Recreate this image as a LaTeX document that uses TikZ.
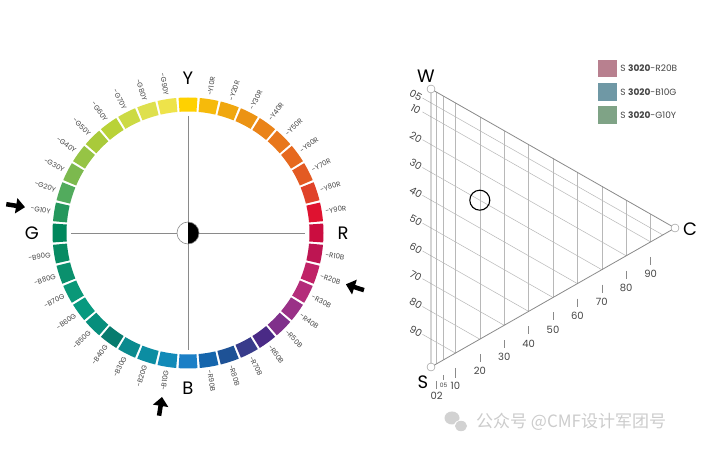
\documentclass[tikz,border=0pt]{standalone}
\usepackage{fontspec}
\setmainfont{Poppins}
\newfontfamily\cjkfont{Noto Sans CJK SC}
\usetikzlibrary{arrows.meta,positioning}

\definecolor{gridgray}{HTML}{B8B8B8}
\definecolor{edgegray}{HTML}{8A8A8A}
\definecolor{labelgray}{HTML}{444444}
\definecolor{swatchA}{HTML}{B8808F}
\definecolor{swatchB}{HTML}{6F98A5}
\definecolor{swatchC}{HTML}{7FA386}

\tikzset{
  huelabel/.style={font=\fontsize{7}{8}\selectfont, text=labelgray, inner sep=1pt},
  hueletter/.style={font=\fontsize{18}{20}\selectfont, inner sep=0pt},
  bigarrow/.style={line width=4.5pt, -{Triangle[length=9pt,width=15pt]}},
  crossline/.style={draw=edgegray, line width=0.7pt},
  gridline/.style={draw=gridgray, line width=0.5pt},
  edgeline/.style={draw=edgegray, line width=0.8pt},
  corner/.style={circle, draw=edgegray, fill=white, inner sep=0pt, minimum size=8pt},
  scalelabel/.style={font=\fontsize{10}{12}\selectfont, text=labelgray, inner sep=0pt},
  swatch/.style={minimum width=19pt, minimum height=17.5pt, inner sep=0pt},
  legendtext/.style={font=\fontsize{9}{11}\selectfont, text=labelgray, inner sep=0pt}
}

\begin{document}
\begin{tikzpicture}[x=1pt, y=1pt]
  \useasboundingbox (0,0) rectangle (720,452);
  \fill[white] (0,0) rectangle (720,452);

  % Hue circle
  \begin{scope}[shift={(188,219)}]
    \draw[crossline] (90:117) -- (270:117);
    \draw[crossline] (180:117) -- (0:117);
    \foreach \hue/\col [count=\i from 0] in {Y/FFD100, Y10R/F6BA0B, Y20R/F0A70F, Y30R/EC9313, Y40R/EA8318,
        Y50R/E8771C, Y60R/E6691F, Y70R/E35A23, Y80R/E0432A, Y90R/DF1230,
        R/CB0D40, R10B/BD1552, R20B/C02266, R30B/B42C7A, R40B/9A3187,
        R50B/80308B, R60B/4A2A86, R70B/383B8B, R80B/1E5296, R90B/1565AC,
        B/1B7FC6, B10G/128AB8, B20G/0C8DA2, B30G/0B8A8E, B40G/077B6E,
        B50G/068E7C, B60G/07997F, B70G/0A9878, B80G/0A906D, B90G/088B63,
        G/00875C, G10Y/24975C, G20Y/52AB5D, G30Y/7CB94E, G40Y/96C445,
        G50Y/A9CA3A, G60Y/B9D237, G70Y/CCDA44, G80Y/DEE04E, G90Y/EEE34A} {
      \definecolor{seg}{HTML}{\col}
      \pgfmathsetmacro\a{90-9*\i}
      \fill[seg] ({\a+4}:121.5) arc[start angle=\a+4, end angle=\a-4, radius=121.5]
        -- ({\a-4}:135.5) arc[start angle=\a-4, end angle=\a+4, radius=135.5] -- cycle;
      \pgfmathtruncatemacro\m{mod(\i,10)}
      \ifnum\m>0
        \ifnum\i>20
          \node[huelabel, anchor=east, rotate=\a+180] (l\i) at (\a:138) {-\hue};
        \else
          \node[huelabel, anchor=west, rotate=\a] (l\i) at (\a:138) {-\hue};
        \fi
      \fi
    }
    % main hues
    \node[hueletter] (Y) at (90:155) {Y};
    \node[hueletter] (R) at (0:155) {R};
    \node[hueletter] (B) at (270:155) {B};
    \node[hueletter] (G) at (180:156) {G};
    % centre disc
    \fill[white] (0,0) circle[radius=11];
    \fill[black] (270:11) arc[start angle=270, end angle=450, radius=11] -- cycle;
    \draw[edgegray, line width=0.6pt] (0,0) circle[radius=11];
    % pointers
    \draw[bigarrow] (171:184) -- (171:165);
    \draw[bigarrow] (-18:185) -- (-18:166);
    \draw[bigarrow] (261:185) -- (261:166);
  \end{scope}

  % Triangle
  \coordinate (W) at (431,363);
  \coordinate (S) at (431,85);
  \coordinate (C) at (675,224);
  \foreach \s/\t in {5/05,10/10,20/20,30/30,40/40,50/50,60/60,70/70,80/80,90/90} {
    \draw[gridline] ({431-244*0.035}, {363-2.78*\s+139*0.035}) -- ({431+2.44*(100-\s)}, {363-2.78*\s-1.39*(100-\s)});
    \node[scalelabel, rotate=-29.7] (s\s) at ({431-244*0.062}, {363-2.78*\s+139*0.062-1}) {\t};
  }
  \foreach \c in {2,5,10,20,30,40,50,60,70,80,90} {
    \draw[gridline] ({431+2.44*\c}, {363-1.39*\c}) -- ({431+2.44*\c}, {85+1.39*\c});
  }
  \foreach \c in {20,30,40,50,60,70,80,90} {
    \draw[gridline, draw=edgegray] ({431+2.44*\c}, {85+1.39*\c-15}) -- ({431+2.44*\c}, {85+1.39*\c-23});
    \node[scalelabel] (c\c) at ({431+2.44*\c}, {85+1.39*\c-32}) {\c};
  }
  \draw[gridline, draw=edgegray] (455.4,84) -- (455.4,74);
  \draw[gridline, draw=edgegray] (443.7,77) -- (443.7,72);
  \draw[gridline, draw=edgegray] (436,71) -- (436,63);
  \node[scalelabel] (c10) at (455.4,66.3) {10};
  \node[scalelabel, font=\fontsize{6}{7}\selectfont] (c05) at (443.7,66.3) {05};
  \node[scalelabel] (c02) at (436.7,56.3) {02};
  \draw[edgeline] (W) -- (C) -- (S) -- cycle;
  \node[corner] (cw) at (W) {};
  \node[corner] (cs) at (S) {};
  \node[corner] (cc) at (C) {};
  \node[hueletter] (lw) at (426,376) {W};
  \node[hueletter] (lc) at (690,223) {C};
  \node[hueletter] (ls) at (423,70) {S};
  \node[circle, draw=black, line width=1.1pt, minimum size=20pt, inner sep=0pt] (mark) at (479.8,251.8) {};

  % Legend
  \node[swatch, fill=swatchA] (sw1) at (607.5,383.5) {};
  \node[swatch, fill=swatchB] (sw2) at (607.5,360) {};
  \node[swatch, fill=swatchC] (sw3) at (607.5,337) {};
  \node[legendtext, right=3pt of sw1] (t1) {S \textbf{3020}-R20B};
  \node[legendtext, right=3pt of sw2] (t2) {S \textbf{3020}-B10G};
  \node[legendtext, right=3pt of sw3] (t3) {S \textbf{3020}-G10Y};

  % Watermark
  \fill[gray!35] (452,34) ellipse[x radius=7.5, y radius=6.5];
  \fill[white] (461,26) ellipse[x radius=7, y radius=6];
  \fill[gray!35] (461,26) ellipse[x radius=6, y radius=5.2];
  \node[font=\cjkfont\fontsize{17}{20}\selectfont, text=gray!40, anchor=west, inner sep=0pt] (wm) at (476,30) {公众号 @CMF设计军团号};
\end{tikzpicture}
\end{document}
